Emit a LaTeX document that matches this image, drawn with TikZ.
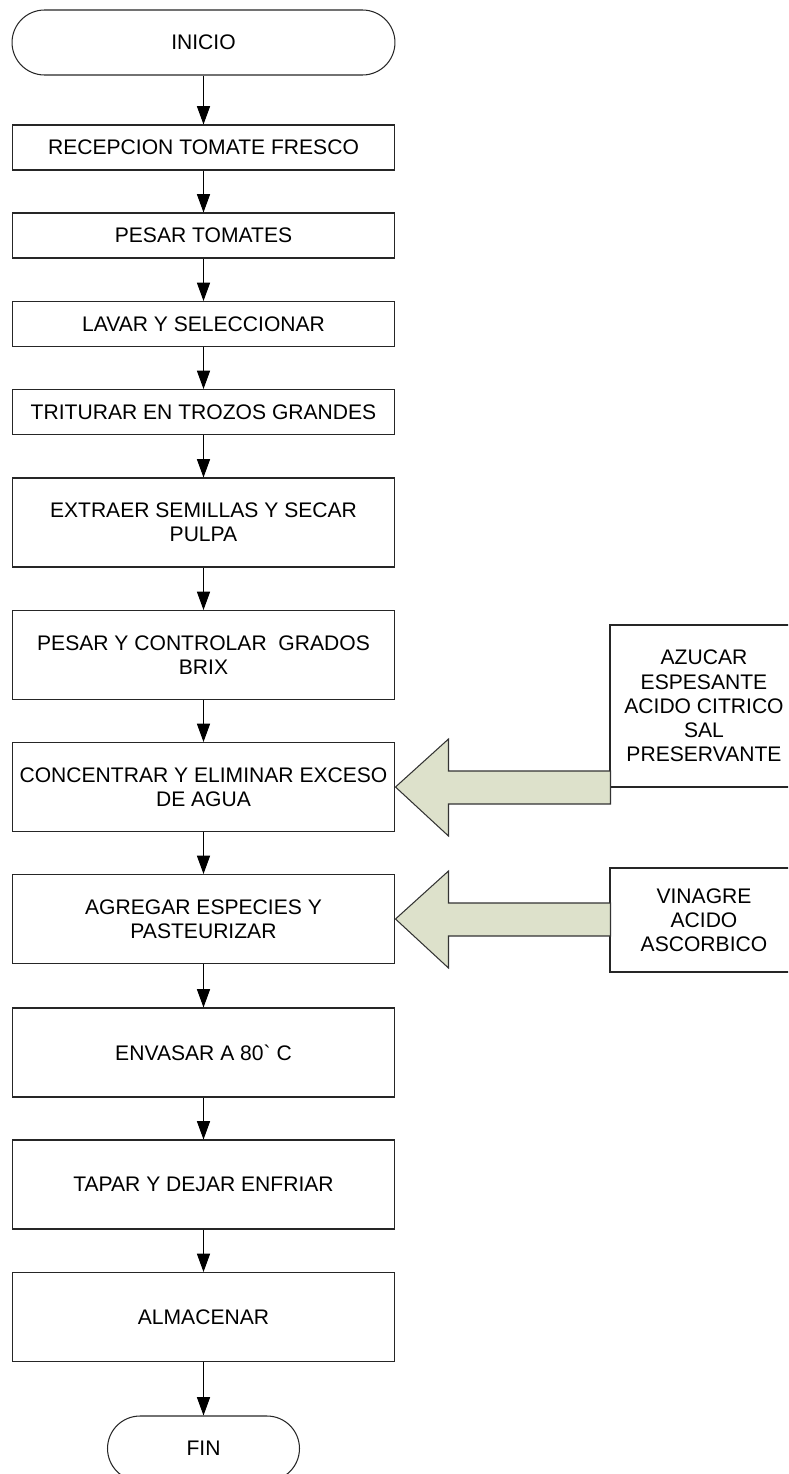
\documentclass[tikz,border=0pt]{standalone}
\usepackage{fontspec}
\setmainfont{Liberation Sans}
\usetikzlibrary{arrows.meta,shapes.misc}
\definecolor{arrowfill}{RGB}{221,225,203}

\begin{document}
\begin{tikzpicture}[x=0.02cm,y=-0.02cm]

    \tikzset{
      procbox/.style={
        draw=black!85,
        line width=0.6pt,
        minimum width=7.66cm,
        inner sep=0pt,
        align=center,
        font=\fontsize{12}{13.8}\selectfont,
      },
      smallbox/.style={procbox, minimum height=0.9cm},
      bigbox/.style={procbox, minimum height=1.78cm},
      terminal/.style={procbox, rounded rectangle, rounded rectangle arc length=180, minimum height=1.3cm},
      addbox/.style={procbox, minimum width=3.76cm},
      flow/.style={line width=0.6pt, -{Triangle[length=10.5pt,width=7.5pt]}},
      fatarrow/.style={draw=black!80, line width=0.6pt, fill=arrowfill},
    }
    \useasboundingbox (0,0) rectangle (788,1474);
    \clip (0,0) rectangle (788,1474);

    % main column
    \node[terminal] (inicio) at (203.5,42.5) {INICIO};
    \node[smallbox] (recep) at (203.5,147.5) {RECEPCION TOMATE FRESCO};
    \node[smallbox] (pesar) at (203.5,235.5) {PESAR TOMATES};
    \node[smallbox] (lavar) at (203.5,324) {LAVAR Y SELECCIONAR};
    \node[smallbox] (trit) at (203.5,412) {TRITURAR EN TROZOS GRANDES};
    \node[bigbox] (extr) at (203.5,522.5) {EXTRAER SEMILLAS Y SECAR\\PULPA};
    \node[bigbox] (brix) at (203.5,655) {PESAR Y CONTROLAR\ \ GRADOS\\BRIX};
    \node[bigbox] (conc) at (203.5,787) {CONCENTRAR Y ELIMINAR EXCESO\\DE AGUA};
    \node[bigbox] (agre) at (203.5,919) {AGREGAR ESPECIES Y\\PASTEURIZAR};
    \node[bigbox] (envas) at (203.5,1052.5) {ENVASAR A 80\textasciigrave\ C};
    \node[bigbox] (tapar) at (203.5,1184.5) {TAPAR Y DEJAR ENFRIAR};
    \node[bigbox] (almac) at (203.5,1317) {ALMACENAR};
    \node[terminal, minimum width=3.84cm] (fin) at (203.5,1448.5) {FIN};

    % additions
    \node[addbox, minimum height=3.24cm] (azucar) at (704,706) {AZUCAR\\ESPESANTE\\ACIDO CITRICO\\SAL\\PRESERVANTE};
    \node[addbox, minimum height=2.08cm] (vinagre) at (704,920) {VINAGRE\\ACIDO\\ASCORBICO};

    \foreach \a/\b in {inicio/recep,recep/pesar,pesar/lavar,lavar/trit,trit/extr,extr/brix,
                       brix/conc,conc/agre,agre/envas,envas/tapar,tapar/almac,almac/fin}
      \draw[flow] (\a.south) -- (\b.north);

    \foreach \n in {conc,agre}
      \draw[fatarrow] (\n.east) -- ++(53,-48) -- ++(0,32) -- ++(162,0) -- ++(0,33)
        -- ++(-162,0) -- ++(0,32) -- cycle;

\end{tikzpicture}
\end{document}
